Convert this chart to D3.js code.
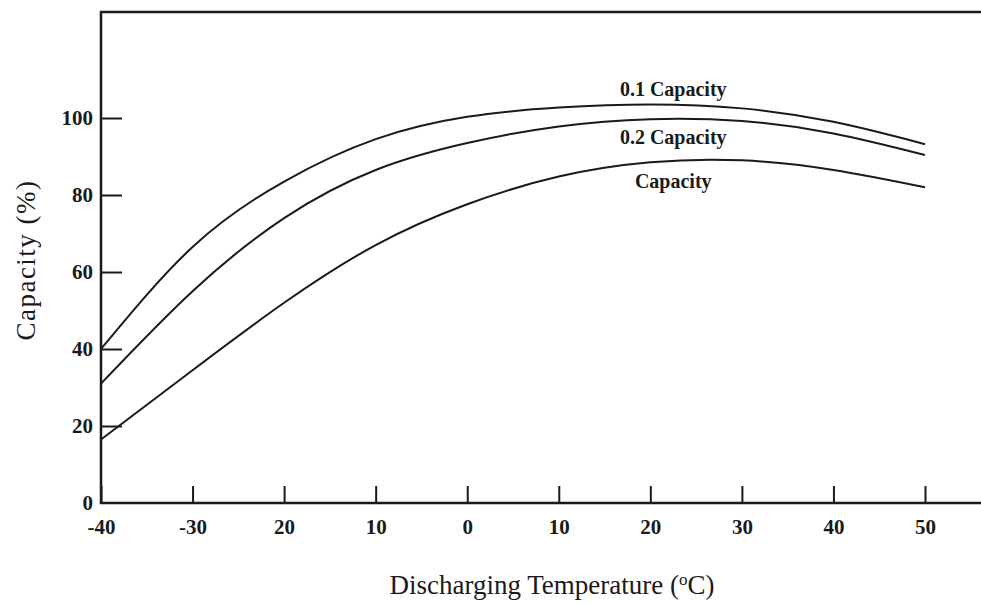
<!DOCTYPE html>
<meta charset="utf-8">
<style>
  body { margin: 0; background: #fff; }
  .tick text { font: bold 21px "Liberation Serif", "DejaVu Serif", serif; fill: #1a1a1a; }
  .curve-label { font: bold 20px "Liberation Serif", serif; fill: #1a1a1a; text-anchor: middle; }
  .title { font: 27px "Liberation Serif", serif; fill: #1a1a1a; text-anchor: middle; }
</style>
<svg width="981" height="606"></svg>
<script src="https://d3js.org/d3.v7.min.js"></script>
<script>
  // discharging temperature (deg C)
  var temps = [-40, -30, -20, -10, 0, 10, 20, 30, 40, 50];
  // tick labels as printed in the source figure
  var tempLabels = ["-40", "-30", "20", "10", "0", "10", "20", "30", "40", "50"];
  var capTicks = [0, 20, 40, 60, 80, 100];

  var cap01 = [40, 66.5, 83.5, 94.5, 100.3, 102.7, 103.5, 102.5, 99, 93.2];
  var cap02 = [31, 55, 74, 86.5, 93.5, 97.8, 99.7, 99.2, 96, 90.4];
  var capStd = [16.5, 34.5, 52, 67, 77.6, 84.8, 88.5, 89, 86.5, 82];

  var seriesNames = ["0.1 Capacity", "0.2 Capacity", "Capacity"];
  var seriesValues = [cap01, cap02, capStd];

  var svg = d3.select("svg"),
    plotLeft = 101, plotBottom = 503, plotTop = 12, plotRight = 981;

  var x = d3.scaleLinear().domain([-40, 50]).range([101, 925]);
  var y = d3.scaleLinear().domain([0, 100]).range([503, 118]);

  var ink = "#1a1a1a";

  // frame: top line, left axis, bottom axis line
  svg.append("path")
    .attr("d", "M" + plotRight + "," + plotTop + "H" + plotLeft + "V" + plotBottom + "H" + plotRight)
    .attr("fill", "none")
    .attr("stroke", ink)
    .attr("stroke-width", 2.5);

  var xAxis = svg.append("g")
    .attr("transform", "translate(0," + plotBottom + ")")
    .call(d3.axisBottom(x)
      .tickValues(temps)
      .tickSizeInner(-17)
      .tickSizeOuter(0)
      .tickPadding(16)
      .tickFormat(function (d, i) { return tempLabels[i]; }));
  xAxis.select(".domain").remove();
  xAxis.selectAll(".tick line").attr("stroke", ink).attr("stroke-width", 2);

  var yAxis = svg.append("g")
    .attr("transform", "translate(" + plotLeft + ",0)")
    .call(d3.axisLeft(y)
      .tickValues(capTicks)
      .tickSizeInner(-21)
      .tickSizeOuter(0)
      .tickPadding(8));
  yAxis.select(".domain").remove();
  yAxis.selectAll(".tick line").attr("stroke", ink).attr("stroke-width", 2);
  yAxis.selectAll(".tick").filter(function (d) { return d === 0; }).select("line").remove();

  var line = d3.line()
    .x(function (d, i) { return x(temps[i]); })
    .y(function (d) { return y(d); })
    .curve(d3.curveNatural);

  svg.selectAll("path.curve")
    .data(seriesValues)
    .enter().append("path")
    .attr("class", "curve")
    .attr("d", line)
    .attr("fill", "none")
    .attr("stroke", ink)
    .attr("stroke-width", 2);

  // curve labels near 22 deg: first above its curve, others below
  var labelOffset = [-9, 25, 26];
  svg.selectAll("text.curve-label")
    .data(seriesNames)
    .enter().append("text")
    .attr("class", "curve-label")
    .attr("x", x(22.5))
    .attr("y", function (d, i) { return y(seriesValues[i][6]) + labelOffset[i]; })
    .text(function (d) { return d; });

  svg.append("text")
    .attr("class", "title")
    .attr("letter-spacing", 1.5)
    .attr("transform", "translate(35,260) rotate(-90)")
    .text("Capacity (%)");

  var xt = svg.append("text")
    .attr("class", "title")
    .attr("x", 552)
    .attr("y", 594);
  xt.append("tspan").text("Discharging Temperature (");
  xt.append("tspan").attr("font-size", 17).attr("dy", -9).text("o");
  xt.append("tspan").attr("dy", 9).text("C)");
</script>
